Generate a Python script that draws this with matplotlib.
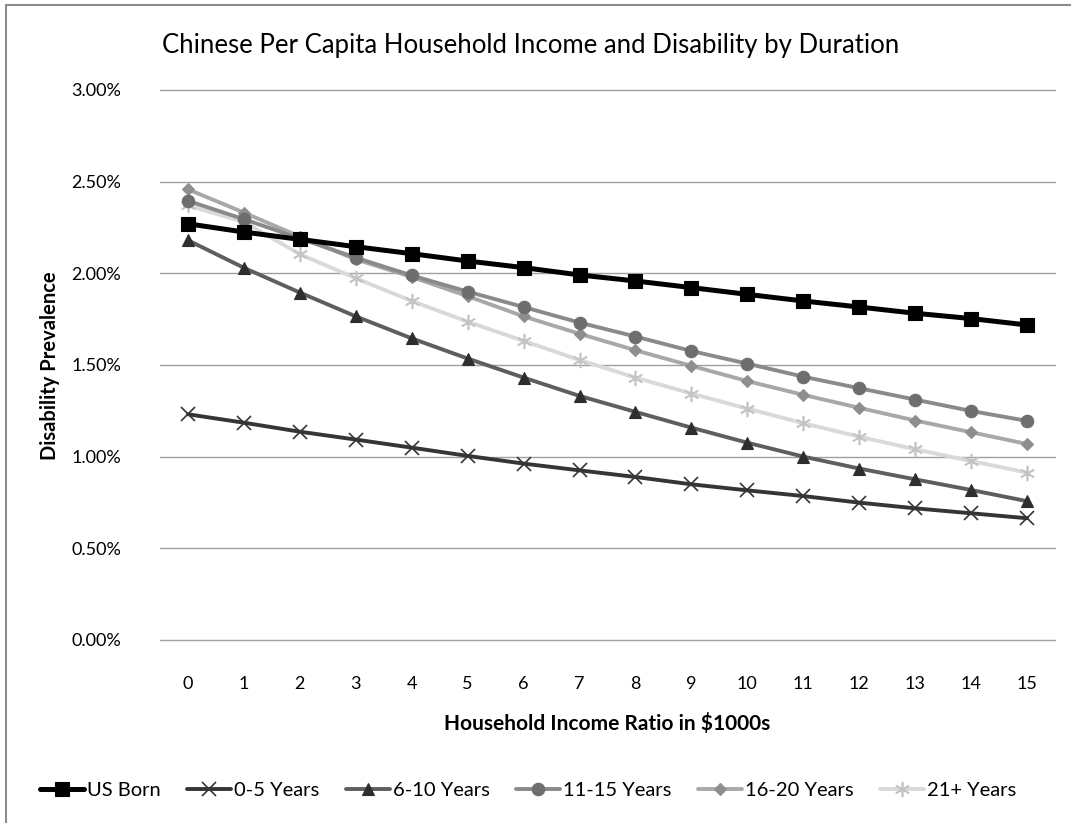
import numpy as np
import matplotlib.pyplot as plt
from matplotlib.patches import Rectangle
from matplotlib.ticker import PercentFormatter

plt.rcParams['font.family'] = ['Lato', 'DejaVu Sans']

# income ratio categories ($1000s)
income = list(range(16))

# predicted disability prevalence (%) by years in the US
us_born = [2.27, 2.225, 2.185, 2.145, 2.107, 2.067, 2.031, 1.991, 1.958, 1.922,
           1.885, 1.849, 1.816, 1.782, 1.753, 1.718]
yrs_0_5 = [1.231, 1.185, 1.136, 1.093, 1.049, 1.004, 0.962, 0.925, 0.889, 0.849,
           0.816, 0.785, 0.749, 0.718, 0.691, 0.664]
yrs_6_10 = [2.18, 2.03, 1.895, 1.765, 1.645, 1.535, 1.431, 1.331, 1.244, 1.158,
            1.076, 1.0, 0.935, 0.876, 0.818, 0.757]
yrs_11_15 = [2.395, 2.295, 2.19, 2.085, 1.988, 1.9, 1.816, 1.731, 1.655, 1.576,
             1.507, 1.436, 1.373, 1.311, 1.249, 1.195]
yrs_16_20 = [2.458, 2.331, 2.2, 2.076, 1.98, 1.875, 1.765, 1.67, 1.58, 1.495,
             1.412, 1.337, 1.266, 1.197, 1.133, 1.069]
yrs_21 = [2.37, 2.28, 2.104, 1.973, 1.849, 1.736, 1.631, 1.527, 1.431, 1.344,
          1.262, 1.182, 1.109, 1.04, 0.976, 0.913]

series = [
    ('US Born', us_born, '#000000', '#000000', 's', 10.5, 3.6),
    ('0-5 Years', yrs_0_5, '#353535', '#353535', 'x', 10, 2.8),
    ('6-10 Years', yrs_6_10, '#5e5e5e', '#2e2e2e', '^', 9, 2.8),
    ('11-15 Years', yrs_11_15, '#8a8a8a', '#6e6e6e', 'o', 9, 2.8),
    ('16-20 Years', yrs_16_20, '#a8a8a8', '#8e8e8e', 'D', 6.5, 2.8),
    ('21+ Years', yrs_21, '#d9d9d9', '#c4c4c4', (6, 2, 0), 11, 2.8),
]

fig = plt.figure(figsize=(10.71, 8.23), dpi=100)
ax = fig.add_axes([0.1494, 0.2224, 0.8357, 0.6683])

# outer chart frame
fig.patches.append(Rectangle((6 / 1071, -0.05), 1.1, 1 - 5 / 823 + 0.05,
                             transform=fig.transFigure, fill=False,
                             edgecolor='#8c8c8c', linewidth=1.5))

# draw the lightest series first so the dark ones sit on top
for name, vals, lc, mc, mk, ms, lw in reversed(series):
    mew = 1.2 if mk in ('x', (6, 2, 0)) else 0.8
    ax.plot(income, np.array(vals) / 100, color=lc, linewidth=lw, marker=mk,
            markersize=ms, markerfacecolor=mc, markeredgecolor=mc,
            markeredgewidth=mew, label=name, solid_capstyle='round')

ax.set_xlim(-0.5, 15.5)
ax.set_ylim(0, 0.03)
ax.set_yticks(np.arange(0, 0.0301, 0.005))
ax.yaxis.set_major_formatter(PercentFormatter(1.0, decimals=2))
ax.set_xticks(income)
ax.grid(axis='y', color='#a0a0a0', linewidth=1)
for gl in ax.get_ygridlines():
    gl.set_clip_on(False)
ax.set_axisbelow(True)
for s in ax.spines.values():
    s.set_visible(False)
ax.tick_params(length=0, labelsize=13, colors='#000000')
ax.tick_params(axis='y', pad=28)
ax.tick_params(axis='x', pad=26)

fig.text(0.495, 0.945, 'Chinese Per Capita Household Income and Disability by Duration',
         ha='center', va='center', fontsize=18.5)
fig.text(0.047, 0.556, 'Disability Prevalence', rotation=90, ha='center',
         va='center', fontsize=14.5, fontweight='bold')
fig.text(0.567, 0.121, 'Household Income Ratio in $1000s', ha='center',
         va='center', fontsize=15, fontweight='bold')

handles, labels = ax.get_legend_handles_labels()
order = [labels.index(s[0]) for s in series]
fig.legend([handles[i] for i in order], [labels[i] for i in order],
           loc='center', bbox_to_anchor=(0.493, 0.04), ncol=6, frameon=False,
           fontsize=14.5, handlelength=2.2, handletextpad=0.15, columnspacing=1.3)

fig.savefig('out.png', dpi=100)
